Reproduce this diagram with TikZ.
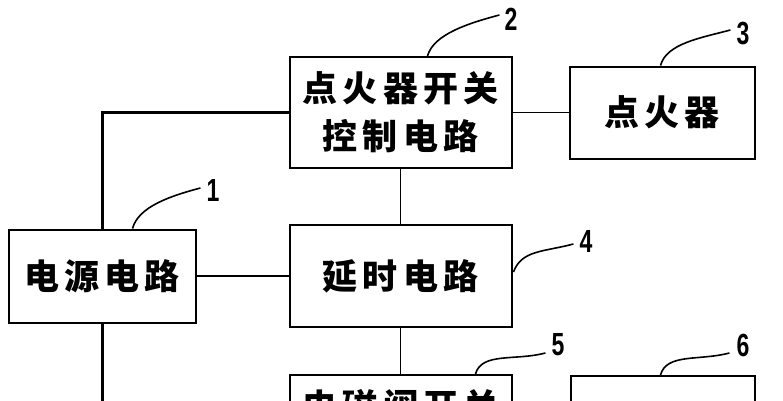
\documentclass[tikz,border=0pt]{standalone}
\usepackage{fontspec}
\usepackage{tikz}
\usetikzlibrary{positioning}
\newfontfamily\cjk[LetterSpace=15]{Noto Sans CJK SC}
\newfontfamily\numfont[FakeStretch=0.72]{Liberation Sans}
\tikzset{
  blockbox/.style={
    rectangle,
    draw=black,
    line width=2pt,
    align=center,
    inner sep=0pt,
    font=\fontsize{35}{48}\cjk\bfseries
  },
  wire/.style={
    line width=1.6pt,
    draw=black
  },
  buswire/.style={
    line width=3pt,
    draw=black
  },
  leader/.style={
    line width=1.6pt,
    draw=black
  },
  numlabel/.style={
    inner sep=0pt,
    font=\fontsize{32}{32}\numfont\bfseries
  }
}

\begin{document}
\begin{tikzpicture}[x=1pt,y=-1pt]
\clip (0,0) rectangle (783,400);
\useasboundingbox (0,0) rectangle (783,400);

\node[blockbox, minimum width=222pt, minimum height=111pt] (igctl) at (400.5,112.5) {点火器开关\\控制电路};
\node[blockbox, minimum width=185pt, minimum height=92pt, right=56pt of igctl] (igniter) {点火器};
\node[blockbox, minimum width=222pt, minimum height=102pt, below=55pt of igctl] (delay) {延时电路};
\node[blockbox, minimum width=187pt, minimum height=93pt, left=92pt of delay] (power) {电源电路};
\node[blockbox, minimum width=222pt, minimum height=111pt, below=46pt of delay] (valvectl) {电磁阀开关\\\phantom{控制电路}};
\node[blockbox, minimum width=184pt, minimum height=92pt, below right=1pt and 57pt of valvectl.north east] (valve) {};

% connections
\coordinate (busend) at (power.south |- 0,420);
\draw[buswire] (power.north) |- (igctl.west);
\draw[buswire] (power.south) -- (busend);
\draw[wire] (igctl.east) -- (igctl.east -| igniter.west);
\draw[wire] (power.east) -- (power.east -| delay.west);
\draw[wire] (igctl.south) -- (delay.north);
\draw[wire] (delay.south) -- (valvectl.north);

% reference numbers
\node[numlabel] (n1) at (213,190) {1};
\node[numlabel] (n2) at (511,19) {2};
\node[numlabel] (n3) at (743,34) {3};
\node[numlabel] (n4) at (586,241) {4};
\node[numlabel] (n5) at (558,345) {5};
\node[numlabel] (n6) at (743,345) {6};

\draw[leader] (power.north east) ++(-64,0) .. controls +(6,-22) and +(-30,8) .. ([xshift=-6pt,yshift=2pt]n1.west);
\draw[leader] (igctl.north west) ++(139,0) .. controls +(6,-22) and +(-30,8) .. ([xshift=-5pt,yshift=4pt]n2.west);
\draw[leader] (igniter.north west) ++(92,0) .. controls +(6,-22) and +(-30,8) .. ([xshift=-6pt,yshift=4pt]n3.west);
\draw[leader] (delay.east) ++(1,-4) .. controls +(8,-22) and +(-30,8) .. ([xshift=-6pt,yshift=-3pt]n4.west);
\draw[leader] (valvectl.north west) ++(187,0) .. controls +(6,-22) and +(-30,8) .. ([xshift=-6pt,yshift=-8pt]n5.west);
\draw[leader] (valve.north west) ++(91,0) .. controls +(6,-22) and +(-30,8) .. ([xshift=-7pt,yshift=-8pt]n6.west);
\end{tikzpicture}
\end{document}
